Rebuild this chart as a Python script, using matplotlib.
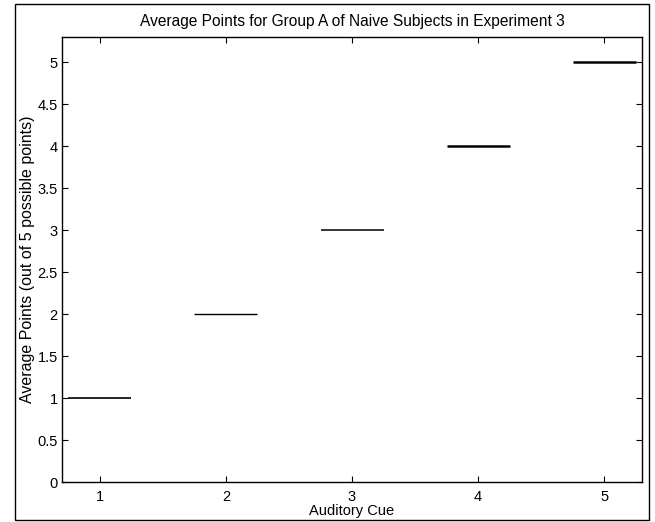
import matplotlib.pyplot as plt
from matplotlib.patches import Rectangle

plt.rcParams['font.family'] = ['Liberation Sans', 'DejaVu Sans']

# data
cues = [1, 2, 3, 4, 5]
avg_points = [1, 2, 3, 4, 5]
line_width = [1.2, 1.0, 1.1, 1.8, 1.8]
half = 0.25

fig = plt.figure(figsize=(6.55, 5.22), dpi=100)
ax = fig.add_axes([0.0947, 0.0766, 0.8855, 0.8525])

ax.hlines(avg_points, [c - half for c in cues], [c + half for c in cues],
          colors='black', linewidth=line_width)

ax.set_xlim(0.7, 5.3)
ax.set_ylim(0, 5.3)
ax.set_xticks(cues)
ax.set_yticks([0, 0.5, 1, 1.5, 2, 2.5, 3, 3.5, 4, 4.5, 5])
ax.set_yticklabels(['0', '0.5', '1', '1.5', '2', '2.5', '3', '3.5', '4', '4.5', '5'])
ax.tick_params(direction='in', top=True, right=True, length=4, width=0.8,
               labelsize=10.5, colors='black', pad=3)
ax.tick_params(axis='x', pad=6)
for s in ax.spines.values():
    s.set_linewidth(1.0)

ax.set_title('Average Points for Group A of Naive Subjects in Experiment 3',
             fontsize=11.2, pad=8)
ax.set_xlabel('Auditory Cue', fontsize=10.5, labelpad=0)
ax.set_ylabel('Average Points (out of 5 possible points)', fontsize=11.5, labelpad=2)

# outer frame of the scanned page
fig.patches.append(Rectangle((15 / 655, 2 / 522), 634 / 655, 516 / 522,
                             transform=fig.transFigure, fill=False,
                             edgecolor='black', linewidth=1.0))

fig.savefig('out.png', dpi=100)
